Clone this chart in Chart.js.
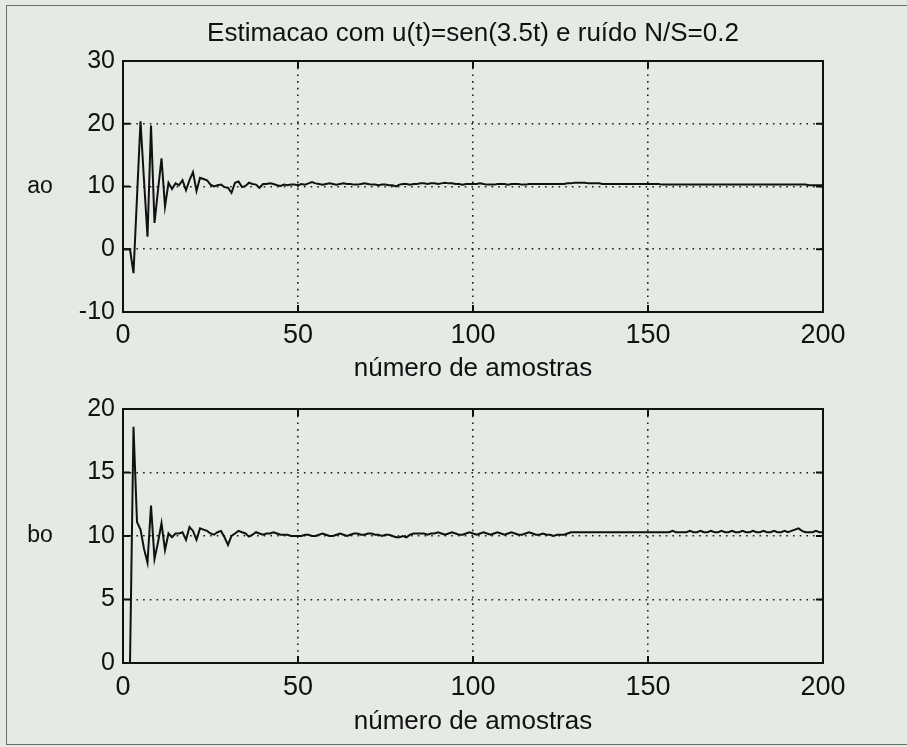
<!DOCTYPE html>
<html>
<head>
<meta charset="utf-8">
<script src="https://cdn.jsdelivr.net/npm/chart.js@4.4.1/dist/chart.umd.min.js"></script>
<style>
  html, body { margin:0; padding:0; background:#e5eae5; width:907px; height:747px; overflow:hidden; }
  #frameBox { position:absolute; left:6px; top:5px; width:960px; height:738px; border:1.5px solid #6a6e6a; border-right:none; }
  canvas { position:absolute; left:0; }
  #c1 { top:0; }
  #c2 { top:385px; }
</style>
</head>
<body>
<div id="frameBox"></div>
<canvas id="c1" width="907" height="385"></canvas>
<canvas id="c2" width="907" height="362"></canvas>
<script>
// ---- data ----
const titleText = "Estimacao com u(t)=sen(3.5t) e ruído N/S=0.2";
const xTitle = "número de amostras";
const xTicks = [0, 50, 100, 150, 200];
const aTicks = [-10, 0, 10, 20, 30];
const bTicks = [0, 5, 10, 15, 20];
const aLabel = "ao";
const bLabel = "bo";

const a0 = [
  0, 0, 0, -3.8, 8.3, 20.4, 11.0, 2.0, 19.7, 4.2,
  9.4, 14.5, 6.8, 10.6, 9.6, 10.5, 10.2, 11.0, 9.4, 11.0,
  12.3, 9.3, 11.4, 11.2, 11.0, 10.3, 10.0, 10.2, 10.3, 9.9,
  9.8, 9.0, 10.6, 10.8, 9.9, 10.1, 10.6, 10.4, 10.3, 9.8,
  10.4, 10.4, 10.5, 10.4, 10.2, 10.1, 10.3, 10.2, 10.3, 10.3,
  10.2, 10.4, 10.3, 10.5, 10.7, 10.5, 10.4, 10.3, 10.4, 10.5,
  10.4, 10.3, 10.4, 10.5, 10.4, 10.4, 10.3, 10.3, 10.4, 10.5,
  10.4, 10.3, 10.3, 10.2, 10.3, 10.3, 10.2, 10.2, 10.0, 10.3,
  10.4, 10.4, 10.3, 10.4, 10.4, 10.5, 10.5, 10.4, 10.5, 10.5,
  10.4, 10.5, 10.6, 10.5, 10.5, 10.4, 10.4, 10.3, 10.4, 10.4,
  10.4, 10.4, 10.5, 10.4, 10.3, 10.3, 10.3, 10.4, 10.4, 10.4,
  10.3, 10.4, 10.4, 10.4, 10.3, 10.3, 10.4, 10.4, 10.4, 10.4,
  10.4, 10.4, 10.4, 10.4, 10.4, 10.4, 10.4, 10.5, 10.5, 10.6,
  10.6, 10.6, 10.6, 10.5, 10.5, 10.5, 10.5, 10.4, 10.4, 10.4,
  10.4, 10.4, 10.4, 10.4, 10.4, 10.4, 10.4, 10.4, 10.4, 10.4,
  10.4, 10.4, 10.4, 10.4, 10.3, 10.3, 10.3, 10.3, 10.3, 10.3,
  10.3, 10.3, 10.3, 10.3, 10.3, 10.3, 10.3, 10.3, 10.3, 10.3,
  10.3, 10.3, 10.3, 10.3, 10.3, 10.3, 10.3, 10.3, 10.3, 10.3,
  10.3, 10.3, 10.3, 10.3, 10.3, 10.3, 10.3, 10.3, 10.3, 10.3,
  10.3, 10.3, 10.3, 10.3, 10.3, 10.3, 10.2, 10.2, 10.2, 10.2,
  10.2
];

const b0 = [
  0, 0, 0, 18.6, 11.1, 10.5, 9.0, 7.9, 12.4, 8.2,
  9.5, 11.0, 8.9, 10.2, 9.9, 10.2, 10.2, 10.3, 9.7, 10.7,
  10.4, 9.7, 10.6, 10.5, 10.4, 10.2, 10.1, 10.3, 10.4, 9.9,
  9.3, 10.0, 10.2, 10.4, 10.3, 10.2, 9.95, 10.1, 10.3, 10.2,
  10.1, 10.2, 10.2, 10.3, 10.2, 10.1, 10.1, 10.1, 10.0, 10.0,
  10.0, 10.0, 10.1, 10.1, 10.0, 10.0, 10.1, 10.2, 10.1, 10.0,
  10.0, 10.1, 10.2, 10.1, 10.0, 10.1, 10.2, 10.2, 10.1, 10.1,
  10.2, 10.2, 10.1, 10.1, 10.0, 10.1, 10.1, 10.0, 9.9, 9.9,
  10.0, 9.9, 10.1, 10.2, 10.2, 10.2, 10.2, 10.1, 10.2, 10.2,
  10.3, 10.2, 10.1, 10.2, 10.3, 10.2, 10.1, 10.1, 10.2, 10.3,
  10.2, 10.1, 10.2, 10.3, 10.2, 10.1, 10.2, 10.3, 10.2, 10.1,
  10.2, 10.3, 10.2, 10.1, 10.1, 10.2, 10.3, 10.2, 10.1, 10.1,
  10.2, 10.1, 10.1, 10.0, 10.1, 10.1, 10.1, 10.2, 10.3, 10.3,
  10.3, 10.3, 10.3, 10.3, 10.3, 10.3, 10.3, 10.3, 10.3, 10.3,
  10.3, 10.3, 10.3, 10.3, 10.3, 10.3, 10.3, 10.3, 10.3, 10.3,
  10.3, 10.3, 10.3, 10.3, 10.3, 10.3, 10.3, 10.4, 10.3, 10.3,
  10.3, 10.3, 10.4, 10.3, 10.3, 10.4, 10.3, 10.3, 10.4, 10.3,
  10.3, 10.4, 10.3, 10.3, 10.4, 10.3, 10.3, 10.4, 10.3, 10.3,
  10.4, 10.3, 10.3, 10.4, 10.3, 10.3, 10.4, 10.3, 10.3, 10.4,
  10.3, 10.4, 10.5, 10.6, 10.4, 10.3, 10.3, 10.3, 10.4, 10.3,
  10.3
];

// ---- rendering ----
Chart.defaults.font.family = '"Liberation Sans", Arial, Helvetica, sans-serif';
Chart.defaults.color = '#111';

const INK = '#111';

const matlabFrame = {
  id: 'matlabFrame',
  afterDraw(chart, args, opts) {
    const {ctx, chartArea: {left, right, top, bottom}, scales: {x, y}} = chart;
    ctx.save();
    ctx.strokeStyle = INK;
    ctx.lineWidth = 2;
    ctx.strokeRect(left, top, right - left, bottom - top);
    ctx.beginPath();
    const tl = 7;
    x.ticks.forEach(t => {
      const p = x.getPixelForValue(t.value);
      ctx.moveTo(p, bottom); ctx.lineTo(p, bottom - tl);
      ctx.moveTo(p, top); ctx.lineTo(p, top + tl);
    });
    y.ticks.forEach(t => {
      const p = y.getPixelForValue(t.value);
      ctx.moveTo(left, p); ctx.lineTo(left + tl, p);
      ctx.moveTo(right, p); ctx.lineTo(right - tl, p);
    });
    ctx.stroke();
    ctx.fillStyle = INK;
    ctx.font = '23px "Liberation Sans", Arial, sans-serif';
    ctx.textAlign = 'center';
    ctx.textBaseline = 'middle';
    ctx.fillText(opts.label, opts.labelX, y.getPixelForValue(opts.labelAt));
    ctx.restore();
  }
};

function makeChart(canvasId, values, yMin, yMax, yTickVals, label, withTitle, padTop) {
  const pts = values.map((v, i) => ({x: i, y: v}));
  return new Chart(document.getElementById(canvasId), {
    type: 'line',
    data: {
      datasets: [{
        data: pts,
        borderColor: INK,
        borderWidth: 2,
        pointRadius: 0,
        tension: 0,
        fill: false
      }]
    },
    options: {
      responsive: false,
      animation: false,
      events: [],
      layout: { padding: { left: 0, right: 84, top: padTop, bottom: 0 } },
      plugins: {
        legend: { display: false },
        tooltip: { enabled: false },
        title: {
          display: withTitle,
          text: titleText,
          fullSize: false,
          color: INK,
          font: { size: 26, weight: 'normal' },
          padding: { top: 18.4, bottom: 11.4 }
        },
        matlabFrame: { label: label, labelX: 40, labelAt: 10 }
      },
      scales: {
        x: {
          type: 'linear',
          min: 0, max: 200,
          afterBuildTicks: (s) => { s.ticks = xTicks.map(v => ({value: v})); },
          afterFit: (s) => { s.height = withTitle ? 73 : 84; },
          ticks: { font: { size: 27 }, padding: withTitle ? 7.8 : 8.8, color: INK, maxRotation: 0 },
          grid: { color: '#1e1e1e', lineWidth: 1.6, drawTicks: false },
          border: { display: false, dash: [1.6, 5.1] },
          title: {
            display: true, text: xTitle, color: INK,
            font: { size: 26 },
            padding: { top: 0, bottom: withTitle ? 0.4 : 9.4 }
          }
        },
        y: {
          type: 'linear',
          min: yMin, max: yMax,
          afterBuildTicks: (s) => { s.ticks = yTickVals.map(v => ({value: v})); },
          afterFit: (s) => { s.width = 123; },
          ticks: { font: { size: 25 }, padding: 8, color: INK },
          grid: { color: '#1e1e1e', lineWidth: 1.6, drawTicks: false },
          border: { display: false, dash: [1.6, 5.1] }
        }
      }
    },
    plugins: [matlabFrame]
  });
}

makeChart('c1', a0, -10, 30, aTicks, aLabel, true, 0);
makeChart('c2', b0, 0, 20, bTicks, bLabel, false, 24);
</script>
</body>
</html>
